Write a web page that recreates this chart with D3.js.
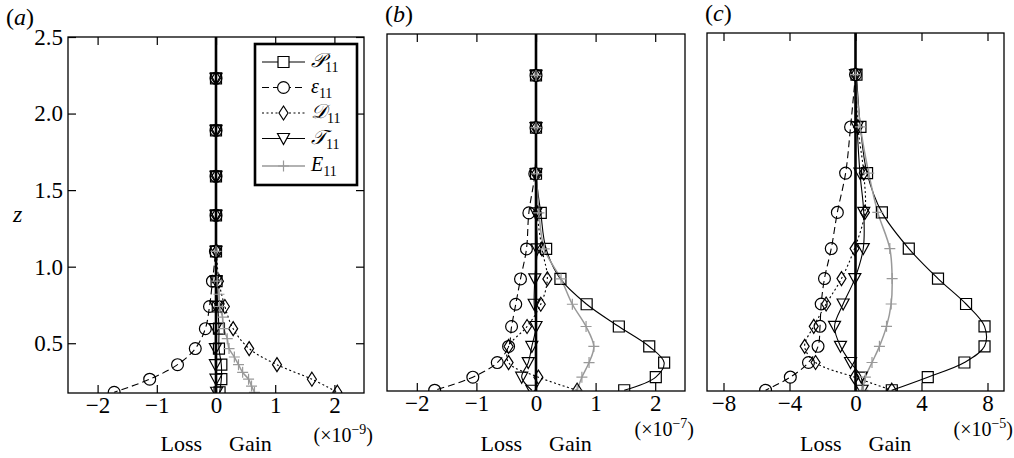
<!DOCTYPE html>
<html>
<head>
<meta charset="utf-8">
<title>Budget of u'u' across the layer</title>
<style>
    body { margin:0; background:#fff; }
    svg { font-family:"Liberation Serif", "DejaVu Serif", serif; }
</style>
</head>
<body>
<svg id="chart" width="1014" height="458"></svg>
<script src="https://d3js.org/d3.v7.min.js"></script>
<script>
// heights where the profiles are sampled (markers)
var zLevels = [2.23, 1.89, 1.59, 1.335, 1.10, 0.905, 0.74, 0.595, 0.465, 0.36, 0.265, 0.18];

// panel (a), units of 1e-9
var aP   = [0, 0, 0, 0, 0, 0.01, 0.03, 0.05, 0.05, 0.09, 0.09, 0.06];
var aEps = [0, 0, 0, 0, -0.01, -0.06, -0.11, -0.18, -0.35, -0.65, -1.12, -1.72];
var aD   = [0, 0, 0, 0, 0.01, 0.05, 0.15, 0.29, 0.56, 1.03, 1.62, 2.05];
var aT   = [0, 0, 0, 0, 0, 0, 0, -0.01, -0.01, -0.01, 0, 0.01];
// E in (a) is noisy, so it has its own heights
var aEz  = [1.10, 0.905, 0.82, 0.74, 0.67, 0.595, 0.53, 0.465, 0.41, 0.36, 0.31, 0.265, 0.22, 0.18];
var aE   = [0, 0.02, 0.05, 0.06, 0.11, 0.13, 0.19, 0.22, 0.31, 0.38, 0.45, 0.55, 0.6, 0.65];

// panel (b), units of 1e-7
var bP   = [0, 0, 0, 0.08, 0.17, 0.41, 0.85, 1.39, 1.90, 2.15, 2.01, 1.48];
var bEps = [0, 0, -0.02, -0.12, -0.16, -0.26, -0.34, -0.41, -0.46, -0.65, -1.06, -1.70];
var bD   = [0, 0, 0, 0.02, 0.10, 0.19, 0.08, -0.15, -0.46, -0.46, 0.04, 0.69];
var bT   = [0, 0, 0, 0, 0.02, -0.02, -0.03, 0, -0.07, -0.13, -0.24, -0.07];
var bE   = [0, 0, 0.01, 0.05, 0.14, 0.42, 0.61, 0.84, 0.97, 0.89, 0.77, 0.69];

// panel (c), units of 1e-5
var cP   = [0.06, 0.3, 0.7, 1.6, 3.23, 5.0, 6.7, 7.82, 7.82, 6.6, 4.38, 2.2];
var cEps = [0, -0.3, -0.6, -1.1, -1.47, -1.88, -2.08, -2.15, -2.27, -2.85, -3.95, -5.45];
var cD   = [0, 0.15, 0.5, 0.57, -0.06, -0.85, -1.78, -2.53, -3.08, -2.42, -0.06, 2.2];
var cT   = [0, 0.1, 0.27, 0.5, 0.47, -0.04, -0.75, -1.27, -0.91, -0.3, 0.35, 0.4];
var cE   = [0, 0.3, 0.8, 1.35, 2.08, 2.22, 2.16, 1.88, 1.45, 1.0, 0.6, 0.45];

var aTicks = [-2, -1, 0, 1, 2];
var bTicks = [-2, -1, 0, 1, 2];
var cTicks = [-8, -4, 0, 4, 8];
var zTicks = [0.5, 1.0, 1.5, 2.0, 2.5];
var exponents = ["\u22129", "\u22127", "\u22125"];

var series = [
    {name:"\uD835\uDCAB", sub:"11", mark:"square",   dash:null,    color:"#000"},
    {name:"\u03B5",       sub:"11", mark:"circle",   dash:"7,4",   color:"#000"},
    {name:"\uD835\uDC9F", sub:"11", mark:"diamond",  dash:"2,2.5", color:"#000"},
    {name:"\uD835\uDCAF", sub:"11", mark:"triangle", dash:null,    color:"#000"},
    {name:"E",            sub:"11", mark:"plus",     dash:null,    color:"#999"}
];

function toPts(zs, vs) {
    return zs.map(function(z, i){ return {z:z, v:vs[i]}; });
}

var panels = [
    {label:"a", left:68,  right:364,  top:37, bottom:393, dom:[-2.5, 2.5], ticks:aTicks, exp:exponents[0], expY:442,
     data:[toPts(zLevels,aP), toPts(zLevels,aEps), toPts(zLevels,aD), toPts(zLevels,aT), toPts(aEz,aE)]},
    {label:"b", left:387, right:685,  top:34, bottom:391, dom:[-2.5, 2.5], ticks:bTicks, exp:exponents[1], expY:436,
     data:[toPts(zLevels,bP), toPts(zLevels,bEps), toPts(zLevels,bD), toPts(zLevels,bT), toPts(zLevels,bE)]},
    {label:"c", left:707, right:1004, top:33, bottom:391, dom:[-9, 9], ticks:cTicks, exp:exponents[2], expY:436,
     data:[toPts(zLevels,cP), toPts(zLevels,cEps), toPts(zLevels,cD), toPts(zLevels,cT), toPts(zLevels,cE)]}
];

var shapes = {
    square:   "M-5.5,-5.5H5.5V5.5H-5.5Z",
    circle:   d3.symbol().type(d3.symbolCircle).size(110)(),
    diamond:  "M0,-7L4.5,0L0,7L-4.5,0Z",
    triangle: "M-6,-5H6L0,6Z",
    plus:     "M-5.5,0H5.5M0,-5.5V5.5"
};

var svg = d3.select("#chart");

panels.forEach(function(p, pi){
    var x = d3.scaleLinear().domain(p.dom).range([p.left, p.right]);
    var y = d3.scaleLinear().domain([0.175, 2.5]).range([p.bottom, p.top]);

    var clipId = "clip" + pi;
    svg.append("clipPath").attr("id", clipId)
        .append("rect")
        .attr("x", p.left).attr("y", p.top - 8)
        .attr("width", p.right - p.left).attr("height", p.bottom - p.top + 8);

    var g = svg.append("g").attr("clip-path", "url(#" + clipId + ")");

    var line = d3.line()
        .x(function(d){ return x(d.v); })
        .y(function(d){ return y(d.z); })
        .curve(d3.curveCatmullRom.alpha(0.5));

    series.forEach(function(s, si){
        g.append("path")
            .datum(p.data[si])
            .attr("d", line)
            .attr("fill", "none")
            .attr("stroke", s.color)
            .attr("stroke-width", si == 4 ? 1.5 : 1.1)
            .attr("stroke-dasharray", s.dash);
    });

    // zero line
    g.append("line")
        .attr("x1", x(0)).attr("x2", x(0))
        .attr("y1", p.top).attr("y2", p.bottom)
        .attr("stroke", "#000").attr("stroke-width", 2.6);

    series.forEach(function(s, si){
        g.selectAll(null)
            .data(p.data[si])
            .enter().append("path")
            .attr("transform", function(d){ return "translate(" + x(d.v) + "," + y(d.z) + ")"; })
            .attr("d", shapes[s.mark])
            .attr("fill", "none")
            .attr("stroke", s.color)
            .attr("stroke-width", 1.2);
    });

    // axes, ticks pointing inwards
    var fmt = function(d){ return d3.format("d")(d).replace("-", "\u2212"); };
    svg.append("g")
        .attr("transform", "translate(0," + p.bottom + ")")
        .call(d3.axisBottom(x).tickValues(p.ticks).tickSize(-8).tickSizeOuter(0).tickPadding(4).tickFormat(fmt));
    svg.append("g")
        .attr("transform", "translate(0," + p.top + ")")
        .call(d3.axisTop(x).tickValues(p.ticks).tickSize(-8).tickSizeOuter(0).tickFormat(""));

    if (pi == 0) {
        svg.append("g")
            .attr("transform", "translate(" + p.left + ",0)")
            .call(d3.axisLeft(y).tickValues(zTicks).tickSize(-8).tickSizeOuter(0).tickPadding(5).tickFormat(d3.format(".1f")));
        svg.append("g")
            .attr("transform", "translate(" + p.right + ",0)")
            .call(d3.axisRight(y).tickValues(zTicks).tickSize(-8).tickSizeOuter(0).tickFormat(""));
    }

    svg.selectAll(".domain").remove();
    svg.selectAll(".tick line").attr("stroke", "#000").attr("stroke-width", 1.2);
    svg.selectAll(".tick text")
        .attr("fill", "#000")
        .style("font-family", "Liberation Serif, serif")
        .style("font-size", "23px");

    // frame
    svg.append("rect")
        .attr("x", p.left).attr("y", p.top)
        .attr("width", p.right - p.left).attr("height", p.bottom - p.top)
        .attr("fill", "none").attr("stroke", "#000").attr("stroke-width", 1.3);

    // panel label
    var lab = svg.append("text")
        .attr("x", p.left - (pi == 0 ? 62 : 2)).attr("y", p.top - 12)
        .style("font-size", "24px");
    lab.append("tspan").text("(");
    lab.append("tspan").style("font-style", "italic").text(p.label);
    lab.append("tspan").text(")");

    // exponent
    var ex = svg.append("text")
        .attr("x", p.right + 9).attr("y", p.expY)
        .attr("text-anchor", "end")
        .style("font-size", "20px");
    ex.append("tspan").text("(\u00D710");
    ex.append("tspan").attr("dy", -8).style("font-size", "14px").text(p.exp);
    ex.append("tspan").attr("dy", 8).text(")");

    // loss / gain
    svg.append("text")
        .attr("x", x(0) - 14).attr("y", 451)
        .attr("text-anchor", "end")
        .style("font-size", "22px")
        .text("Loss");
    svg.append("text")
        .attr("x", x(0) + 13).attr("y", 451)
        .style("font-size", "22px")
        .text("Gain");
});

// z label
svg.append("text")
    .attr("x", 13).attr("y", 222)
    .style("font-size", "24px").style("font-style", "italic")
    .text("z");

// legend in panel (a)
var leg = svg.append("g");
leg.append("rect")
    .attr("x", 255).attr("y", 44).attr("width", 102).attr("height", 141)
    .attr("fill", "#fff").attr("stroke", "#000").attr("stroke-width", 2.6);

var rowY = [62, 87.5, 113, 138.5, 166];
series.forEach(function(s, i){
    var row = leg.append("g").attr("transform", "translate(0," + rowY[i] + ")");
    row.append("line")
        .attr("x1", 262).attr("x2", 305)
        .attr("stroke", s.color).attr("stroke-width", i == 4 ? 1.5 : 1.1)
        .attr("stroke-dasharray", s.dash);
    row.append("path")
        .attr("transform", "translate(283.5,0)")
        .attr("d", shapes[s.mark])
        .attr("fill", "#fff").attr("stroke", s.color).attr("stroke-width", 1.2);
    var t = row.append("text")
        .attr("x", 311).attr("y", 5)
        .style("font-size", "20px");
    t.append("tspan").style("font-style", "italic").text(s.name);
    t.append("tspan").attr("dy", 5).style("font-size", "14px").text(s.sub);
});
</script>
</body>
</html>
